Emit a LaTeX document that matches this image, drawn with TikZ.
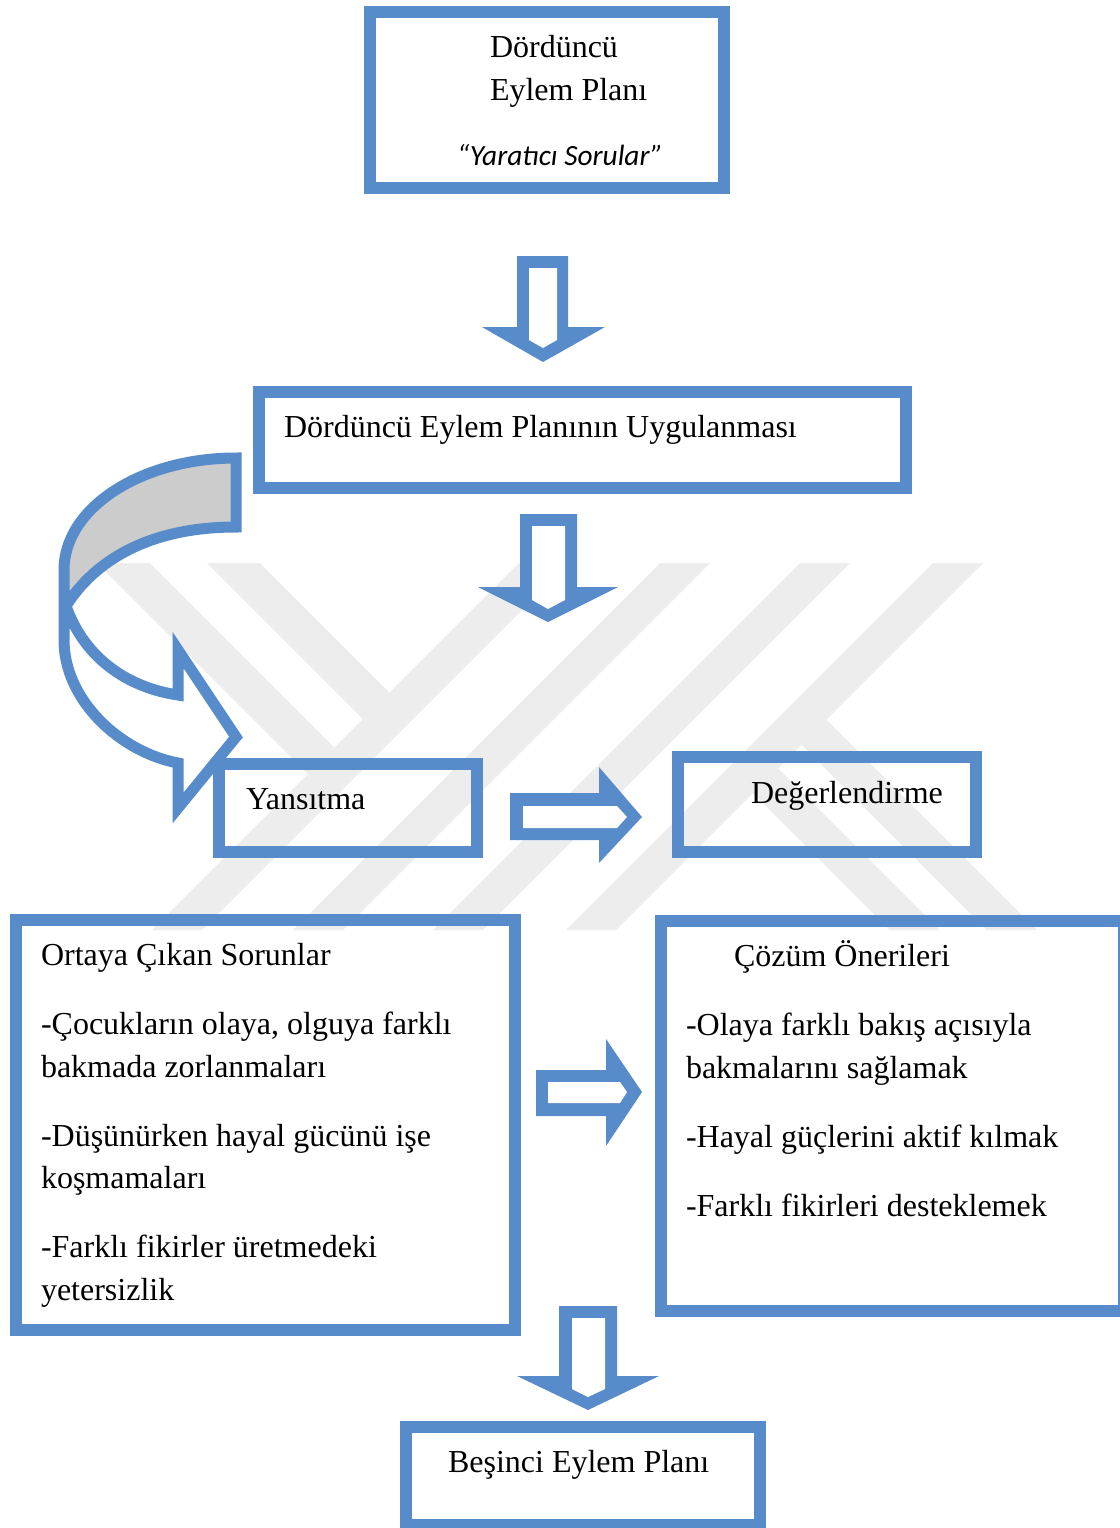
\documentclass[tikz,border=0pt]{standalone}
\usepackage{fontspec}
\setmainfont{Liberation Serif}
\newfontfamily\calibri{Carlito}
\usetikzlibrary{fit}
\definecolor{frameblue}{RGB}{87,139,201}
\definecolor{ribbongrey}{RGB}{204,204,204}
\definecolor{markgrey}{RGB}{237,237,237}
\begin{document}
\begin{tikzpicture}[x=0.5pt,y=-0.5pt,
  box/.style={draw=frameblue, line width=6pt, inner sep=0pt, outer sep=0pt, rectangle},
  % multi-line texts are anchored at the baseline of their last line
  txt/.style={inner sep=0pt, outer sep=0pt, anchor=base west, align=left,
              font=\fontsize{16}{21.25}\selectfont, text=black},
  band/.style={fill=markgrey, draw=none},
  blockout/.style={fill=frameblue, draw=none},
  blockin/.style={fill=white, draw=none},
  ribbon/.style={draw=frameblue, line width=5.5pt, line join=miter}
]
\useasboundingbox (0,0) rectangle (1120,1528);
\fill[white] (0,0) rectangle (1120,1528);

% faint logo in the background
\begin{scope}
  \clip (0,563) rectangle (1120,930);
  \fill[band] (519,563) -- (569,563) -- (202,930) -- (152,930) -- cycle;
  \fill[band] (660,563) -- (710,563) -- (343,930) -- (293,930) -- cycle;
  \fill[band] (800,563) -- (850,563) -- (483,930) -- (433,930) -- cycle;
  \fill[band] (933,563) -- (983,563) -- (616,930) -- (566,930) -- cycle;
  \fill[band] (97,563) -- (150,563) -- (347,760) -- (320.5,786.5) -- cycle;
  \fill[band] (207,563) -- (260,563) -- (402,705) -- (375.5,731.5) -- cycle;
  \fill[band] (789,732) -- (814,707) -- (1037,930) -- (987,930) -- cycle;
  \fill[band] (740.5,780.5) -- (765.5,755.5) -- (940,930) -- (890,930) -- cycle;
\end{scope}

% curved arrow into the reflection step
\fill[ribbongrey] (236,458) .. controls (141,458) and (64,508) .. (64,570)
  -- (64,606) -- (66,606) .. controls (95,560) and (150,527) .. (236,527) -- cycle;
\fill[white] (64,600) -- (64,640) .. controls (64,700) and (120,752) .. (178,763)
  -- (178,808) -- (236,737) -- (178,650) -- (178,695)
  .. controls (130,688) and (85,660) .. (66,606) -- cycle;
\draw[ribbon] (236,527) -- (236,458) .. controls (141,458) and (64,508) .. (64,570)
  -- (64,640) .. controls (64,700) and (120,752) .. (178,763)
  -- (178,808) -- (236,737) -- (178,650) -- (178,695)
  .. controls (130,688) and (85,660) .. (66,606)
  .. controls (95,560) and (150,527) .. (236,527) -- cycle;

% boxes
\node[box, fit={(370,12) (724,188)}] (plan4) {};
\node[box, fit={(259,392) (906,488)}] (apply) {};
\node[box, fit={(219,764) (477,852)}] (reflect) {};
\node[box, fit={(678,757) (976,852)}] (assess) {};
\node[box, fit={(16,920) (515,1330)}] (problems) {};
\node[box, fit={(661,921) (1124,1311)}] (solutions) {};
\node[box, fit={(406,1427) (760,1525)}] (plan5) {};

% texts
\node[txt] (plan4t) at (490,100) {Dördüncü\\Eylem Planı};
\node[txt, font=\calibri\itshape\fontsize{14.67}{18}\selectfont] (plan4s) at (457,165) {“Yaratıcı Sorular”};
\node[txt] (applyt) at (284,437) {Dördüncü Eylem Planının Uygulanması};
\node[txt] (reflectt) at (246,809) {Yansıtma};
\node[txt] (assesst) at (751,803) {Değerlendirme};
\node[txt] (problemst) at (41,1300) {Ortaya Çıkan Sorunlar\\[13.25pt]
  -Çocukların olaya, olguya farklı\\bakmada zorlanmaları\\[13.25pt]
  -Düşünürken hayal gücünü işe\\koşmamaları\\[13.25pt]
  -Farklı fikirler üretmedeki\\yetersizlik};
\node[txt] (solutionsh) at (734,966) {Çözüm Önerileri};
\node[txt] (solutionst) at (686,1216) {-Olaya farklı bakış açısıyla\\bakmalarını sağlamak\\[13.25pt]
  -Hayal güçlerini aktif kılmak\\[13.25pt]
  -Farklı fikirleri desteklemek};
\node[txt] (plan5t) at (448,1472) {Beşinci Eylem Planı};

% block arrows
\fill[blockout] (517,256) -- (568,256) -- (568,327) -- (605,327) -- (543,362) -- (482,327) -- (517,327) -- cycle;
\fill[blockin] (529,268) -- (557,268) -- (557,340) -- (543,348) -- (529,340) -- cycle;

\fill[blockout] (520,514) -- (577,514) -- (577,587) -- (618,587) -- (548,622) -- (478,587) -- (520,587) -- cycle;
\fill[blockin] (532,526) -- (565,526) -- (565,600) -- (548,609) -- (532,600) -- cycle;

\fill[blockout] (510,793) -- (599,793) -- (599,767) -- (642,817) -- (599,863) -- (599,840) -- (510,840) -- cycle;
\fill[blockin] (523,806) -- (617,806) -- (627,817) -- (617,828) -- (523,828) -- cycle;

\fill[blockout] (536,1070) -- (606,1070) -- (606,1039) -- (642,1092) -- (606,1146) -- (606,1116) -- (536,1116) -- cycle;
\fill[blockin] (548,1082) -- (620,1082) -- (627,1092) -- (620,1103) -- (548,1103) -- cycle;

\fill[blockout] (559,1306) -- (617,1306) -- (617,1376) -- (659,1376) -- (588,1410) -- (517,1376) -- (559,1376) -- cycle;
\fill[blockin] (572,1318) -- (605,1318) -- (605,1389) -- (588,1397) -- (572,1389) -- cycle;
\end{tikzpicture}
\end{document}
